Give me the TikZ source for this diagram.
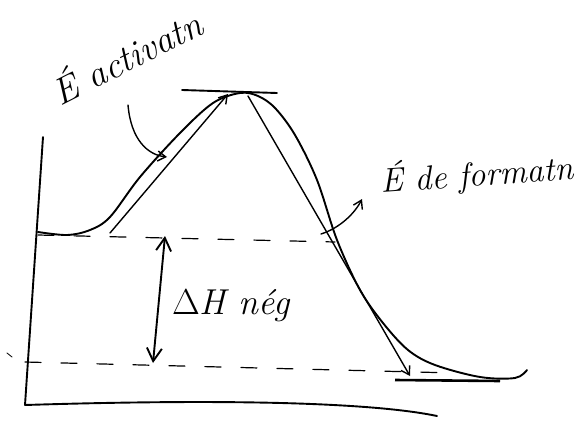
\RequirePackage{fix-cm}
\documentclass[tikz,border=0pt]{standalone}
\usepackage{tikz}
\usetikzlibrary{arrows.meta}
\begin{document}
\begin{tikzpicture}[
  x=1pt,y=-1pt,
  line cap=round,line join=round,
  ink/.style={line width=1.9pt},
  thinink/.style={line width=1.4pt},
  guide/.style={line width=1.2pt,dash pattern=on 16pt off 20pt},
  hand/.style={inner sep=0pt,anchor=base west,font=\fontsize{37}{42}\selectfont\itshape},
  >={Straight Barb[length=8pt,width=10pt]}]
\clip (0,0) rectangle (588,420);
\coordinate (ytop) at (43,137);
\coordinate (orig) at (25,405);
\coordinate (xend) at (437,416);
\coordinate (reacL) at (38,235); \coordinate (reacR) at (335,242);
\coordinate (prodL) at (25,362); \coordinate (prodR) at (455,373);
\coordinate (topL) at (182,90); \coordinate (topR) at (277,93);
\coordinate (upS) at (110,233); \coordinate (upE) at (228,94);
\coordinate (dnS) at (248,96); \coordinate (dnE) at (410,376);
\coordinate (barL) at (395,380); \coordinate (barR) at (500,381);
\coordinate (dhT) at (165,236); \coordinate (dhB) at (153,363);
\coordinate (actP) at (128,105); \coordinate (actQ) at (167,157);
\coordinate (formP) at (321,234); \coordinate (formQ) at (362,199);
\draw[ink] (ytop) -- (orig) .. controls (250,398) and (380,404) .. (xend);
\draw[guide] (reacL) -- (reacR);
\draw[guide] (prodL) -- (prodR);
\draw[ink] plot[smooth,tension=0.55] coordinates {(38,232) (67,235) (90,230) (110,217) (140,177) (180,133) (213,103) (240,93) (258,96) (275,108) (295,135) (317,180) (337,240) (360,290) (383,323) (408,350) (435,365) (480,377) (515,378) (527,370)};
\draw[ink] (topL) -- (topR);
\draw[thinink,->] (upS) -- (upE);
\draw[thinink,->] (dnS) -- (dnE);
\draw[line width=2.6pt,line cap=butt] (barL) -- (barR);
\draw[ink,<->,>={Straight Barb[length=13pt,width=15pt]}] (dhT) -- (dhB);
\draw[thinink,->] (actP) .. controls (131,140) and (148,155) .. (actQ);
\draw[thinink,->] (formP) .. controls (340,228) and (355,213) .. (formQ);
\draw[line width=0.8pt] (7,353) -- (12,357);
\node[hand,rotate=27] (act) at (60,107) {É activatn};
\node[hand,font=\fontsize{34}{40}\selectfont\itshape,rotate=4] (form) at (381,193) {É de formatn};
\node[hand,font=\fontsize{36}{42}\selectfont\itshape] (dh) at (172,314) {$\Delta$H nég};
\end{tikzpicture}
\end{document}
